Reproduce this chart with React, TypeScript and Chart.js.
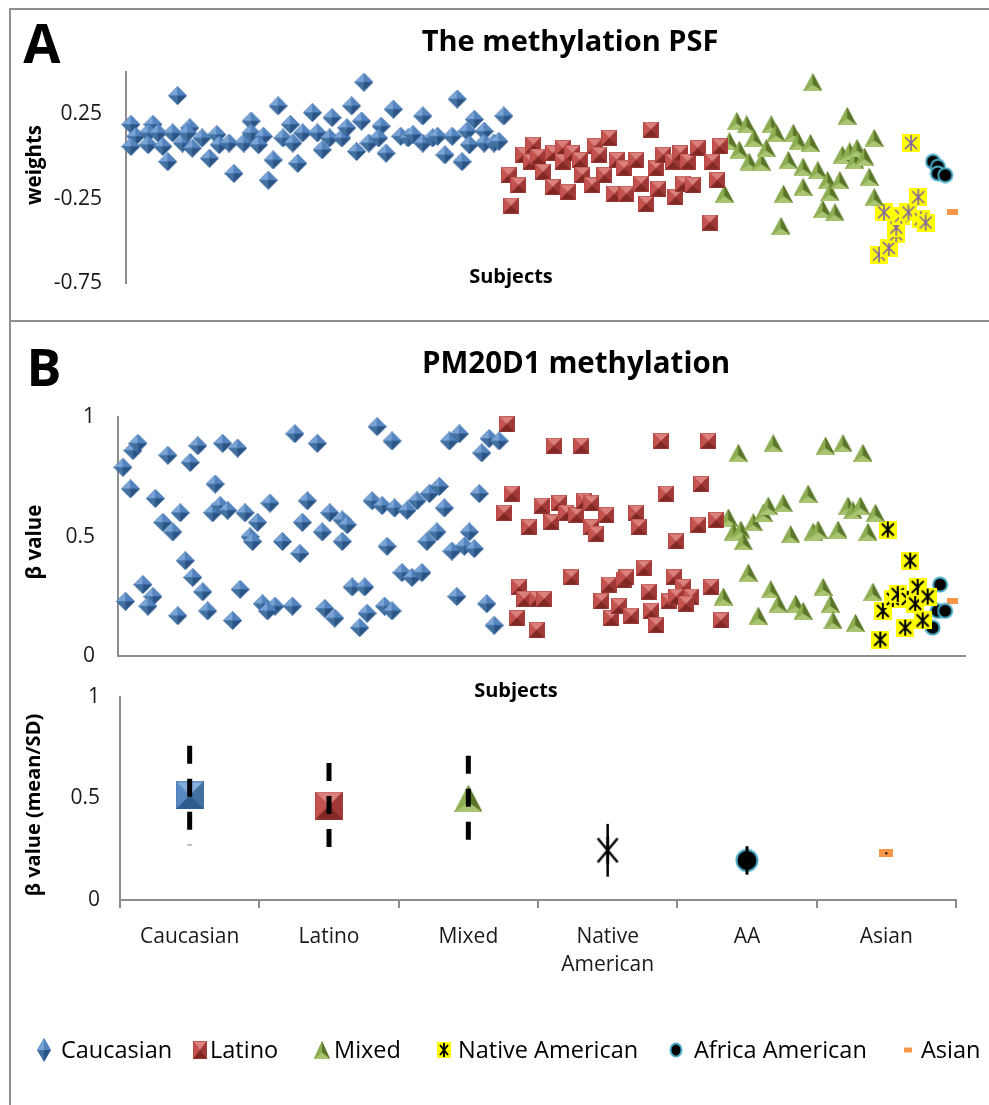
import React, { useEffect, useMemo, useRef } from 'react';
import { Chart, registerables } from 'chart.js';

Chart.register(...registerables);

const FONT = "'Open Sans', 'DejaVu Sans', sans-serif";

// ---------- Panel A: methylation PSF weights, [subject index, weight] ----------
const psfCaucasian = [
  [2, 0.19], [4, 0.12], [2, 0.06], [11, 0.19], [9, 0.14], [9, 0.07], [13, 0.14], [15, 0.06], [17, -0.03], [21, 0.36],
  [19, 0.14], [23, 0.08], [26, 0.17], [27, 0.05], [25, 0.14], [31, 0.11], [34, -0.01], [37, 0.13], [38, 0.07], [42, 0.08],
  [44, -0.10], [48, 0.08], [51, 0.21], [51, 0.14], [56, 0.12], [54, 0.07], [60, -0.02], [58, -0.14], [62, 0.30], [64, 0.11],
  [67, 0.19], [68, 0.08], [70, -0.04], [72, 0.14], [76, 0.26], [78, 0.14], [80, 0.04], [84, 0.23], [83, 0.11], [88, 0.11],
  [90, 0.17], [92, 0.30], [94, 0.03], [96, 0.21], [97, 0.44], [99, 0.08], [104, 0.18], [103, 0.11], [106, 0.02], [109, 0.28],
  [112, 0.12], [115, 0.11], [117, 0.13], [121, 0.24], [121, 0.08], [125, 0.11], [127, 0.12], [130, 0.01], [133, 0.12], [135, 0.34],
  [137, -0.03], [139, 0.15], [140, 0.07], [142, 0.22], [146, 0.15], [146, 0.08], [150, 0.08], [154, 0.24], [152, 0.09],
];
const psfLatino = [
  [156, -0.11], [157, -0.29], [160, -0.17], [162, 0.01], [166, 0.07], [165, -0.03], [168, 0.0], [170, -0.09], [174, 0.02], [174, -0.18],
  [178, 0.05], [178, -0.03], [180, -0.21], [182, 0.02], [185, -0.02], [186, -0.11], [190, -0.17], [191, 0.06], [193, 0.01], [195, -0.11],
  [197, 0.11], [199, -0.22], [200, -0.02], [203, -0.07], [204, -0.22], [208, -0.02], [210, -0.16], [212, -0.28], [214, 0.16], [216, -0.07],
  [217, -0.19], [219, 0.01], [223, -0.03], [224, -0.24], [226, 0.02], [227, -0.16], [229, -0.03], [231, -0.17], [233, 0.05], [238, -0.39],
  [239, -0.03], [241, -0.14], [242, 0.06],
];
const psfMixed = [
  [244, -0.22], [246, 0.09], [249, 0.21], [250, 0.04], [253, 0.19], [254, -0.03], [256, 0.11], [259, -0.03], [261, 0.05], [263, 0.19],
  [265, 0.14], [267, -0.41], [268, -0.22], [270, -0.02], [272, 0.14], [274, 0.09], [276, -0.18], [276, -0.06], [279, 0.08], [280, 0.44],
  [282, -0.08], [284, -0.31], [286, -0.14], [287, -0.21], [289, -0.33], [291, -0.14], [292, 0.01], [294, 0.24], [295, 0.03], [297, -0.02],
  [298, 0.05], [301, 0.0], [303, -0.12], [305, 0.11], [305, -0.24],
];
const psfNative = [
  [307, -0.58], [309, -0.33], [311, -0.54], [314, -0.46], [314, -0.42], [316, -0.35], [319, -0.33], [320, 0.08], [323, -0.24], [324, -0.37], [326, -0.39],
];
const psfAfrican = [[329, -0.03], [331, -0.06], [331, -0.1], [334, -0.11]];
const psfAsian = [[337, -0.33]];
const psfYTicks = [-0.75, -0.25, 0.25];

// ---------- Panel B: PM20D1 methylation beta values, [subject index, beta] ----------
const pmCaucasian = [
  [2, 0.79], [5, 0.70], [6, 0.86], [8, 0.89], [15, 0.66], [18, 0.56], [20, 0.84], [22, 0.52], [25, 0.60], [29, 0.81],
  [32, 0.88], [39, 0.72], [38, 0.60], [41, 0.63], [42, 0.89], [44, 0.61], [48, 0.87], [51, 0.60], [56, 0.56], [53, 0.50],
  [54, 0.48], [61, 0.64], [66, 0.48], [71, 0.93], [73, 0.43], [76, 0.65], [80, 0.89], [74, 0.56], [82, 0.52], [85, 0.60],
  [90, 0.57], [90, 0.48], [92, 0.55], [104, 0.96], [102, 0.65], [106, 0.63], [110, 0.90], [108, 0.46],
  [3, 0.23], [10, 0.30], [14, 0.25], [12, 0.21], [24, 0.17], [27, 0.40], [30, 0.33], [34, 0.27], [36, 0.19], [46, 0.15],
  [49, 0.28], [58, 0.22], [63, 0.21], [70, 0.21], [60, 0.19], [83, 0.20], [87, 0.16], [97, 0.12], [94, 0.29], [99, 0.29],
  [100, 0.18], [107, 0.21], [110, 0.19],
  [133, 0.90], [137, 0.93], [146, 0.85], [149, 0.91], [153, 0.90], [111, 0.62], [116, 0.61], [120, 0.65], [125, 0.68], [129, 0.71],
  [131, 0.62], [145, 0.68], [124, 0.48], [128, 0.52], [134, 0.44], [139, 0.46], [141, 0.52], [143, 0.45], [114, 0.35], [118, 0.33],
  [122, 0.35], [136, 0.25], [148, 0.22], [151, 0.13],
];
const pmLatino = [
  [156, 0.97], [175, 0.88], [186, 0.88], [218, 0.90], [158, 0.68], [155, 0.60], [165, 0.54], [170, 0.63], [174, 0.56], [177, 0.64],
  [180, 0.60], [184, 0.59], [187, 0.65], [190, 0.64], [190, 0.54], [192, 0.51], [196, 0.59], [208, 0.60], [209, 0.54], [220, 0.68],
  [224, 0.48], [161, 0.29], [163, 0.24], [168, 0.24], [171, 0.24], [160, 0.16], [168, 0.11], [182, 0.33], [194, 0.23], [197, 0.30],
  [198, 0.16], [201, 0.21], [203, 0.32], [204, 0.33], [206, 0.17], [211, 0.37], [213, 0.27], [214, 0.19], [216, 0.13], [221, 0.23],
  [223, 0.33], [237, 0.90], [234, 0.72], [233, 0.55], [240, 0.57], [227, 0.29], [230, 0.25], [224, 0.25], [228, 0.22], [238, 0.29],
  [242, 0.15],
];
const pmMixed = [
  [249, 0.85], [263, 0.89], [284, 0.88], [291, 0.89], [299, 0.85],
  [245, 0.58], [247, 0.52], [250, 0.53], [251, 0.48], [255, 0.56], [259, 0.60], [261, 0.63], [267, 0.64], [270, 0.51], [277, 0.68],
  [279, 0.52], [281, 0.53], [289, 0.53], [293, 0.63], [295, 0.61], [298, 0.63], [301, 0.52], [304, 0.60],
  [243, 0.25], [253, 0.35], [257, 0.17], [262, 0.28], [265, 0.22], [272, 0.22], [275, 0.19], [283, 0.29], [286, 0.22], [287, 0.15],
  [296, 0.14], [303, 0.27],
];
const pmNative = [
  [306, 0.07], [307, 0.19], [309, 0.53], [311, 0.24], [313, 0.26], [316, 0.12], [317, 0.24], [318, 0.40], [320, 0.22], [321, 0.29], [323, 0.15], [325, 0.25],
];
const pmAfrican = [[327, 0.12], [329, 0.19], [330, 0.30], [332, 0.19]];
const pmAsian = [[335, 0.23]];
const pmYTicks = [0, 0.5, 1];

// ---------- Panel B (lower): group mean / SD ----------
const groupCategories: (string | string[])[] = ['Caucasian', 'Latino', 'Mixed', ['Native', 'American'], 'AA', 'Asian'];
const groupMeans = [0.515, 0.465, 0.5, 0.245, 0.195, 0.23];
const groupSDs = [0.245, 0.21, 0.21, 0.13, 0.07, 0.005];
const meanYTicks = [0, 0.5, 1];

const legendLabels = ['Caucasian', 'Latino', 'Mixed', 'Native American', 'Africa American', 'Asian'];

// ---------- marker drawing ----------
function makeCanvas(w: number, h: number, draw: (c: CanvasRenderingContext2D) => void) {
  const cv = document.createElement('canvas');
  cv.width = w;
  cv.height = h;
  const c = cv.getContext('2d') as CanvasRenderingContext2D;
  draw(c);
  return cv;
}
function poly(c: CanvasRenderingContext2D, pts: number[][], color: string) {
  c.beginPath();
  c.moveTo(pts[0][0], pts[0][1]);
  for (let i = 1; i < pts.length; i++) c.lineTo(pts[i][0], pts[i][1]);
  c.closePath();
  c.fillStyle = color;
  c.fill();
}
function diamondMarker(w: number, h: number) {
  return makeCanvas(w, h, (c) => {
    const cx = w / 2, cy = h / 2;
    poly(c, [[cx, 0], [w, cy], [cx, h], [0, cy]], '#3f6ea8');
    poly(c, [[cx, 0.5], [0.5, cy], [cx, cy]], '#7ba4d6');
    poly(c, [[cx, 0.5], [w - 0.5, cy], [cx, cy]], '#5484c0');
    poly(c, [[0.5, cy], [cx, h - 0.5], [cx, cy]], '#42709f');
    poly(c, [[w - 0.5, cy], [cx, h - 0.5], [cx, cy]], '#2b5383');
  });
}
function squareMarker(w: number, h: number, pal: string[]) {
  return makeCanvas(w, h, (c) => {
    const cx = w / 2, cy = h / 2;
    poly(c, [[0, 0], [w, 0], [w, h], [0, h]], pal[0]);
    poly(c, [[0.5, 0.5], [w - 0.5, 0.5], [cx, cy]], pal[1]);
    poly(c, [[0.5, 0.5], [0.5, h - 0.5], [cx, cy]], pal[2]);
    poly(c, [[w - 0.5, 0.5], [w - 0.5, h - 0.5], [cx, cy]], pal[3]);
    poly(c, [[0.5, h - 0.5], [w - 0.5, h - 0.5], [cx, cy]], pal[4]);
  });
}
function triangleMarker(w: number, h: number) {
  return makeCanvas(w, h, (c) => {
    const a = [w / 2, 0], bl = [0, h], br = [w, h], ce = [w / 2, h * 0.64];
    poly(c, [a, bl, br], '#6c8934');
    poly(c, [a, bl, ce], '#8eae52');
    poly(c, [a, ce, br], '#5a7529');
    poly(c, [bl, br, ce], '#a9c572');
  });
}
function starMarker(w: number, h: number, color: string, lw: number, bg: string | null) {
  return makeCanvas(w, h, (c) => {
    if (bg) {
      c.fillStyle = bg;
      c.fillRect(0, 0, w, h);
    }
    c.strokeStyle = color;
    c.lineWidth = lw;
    const m = 3;
    c.beginPath();
    c.moveTo(m, m); c.lineTo(w - m, h - m);
    c.moveTo(w - m, m); c.lineTo(m, h - m);
    c.moveTo(w / 2, 1); c.lineTo(w / 2, h - 1);
    c.stroke();
  });
}
function circleMarker(w: number, h: number) {
  return makeCanvas(w, h, (c) => {
    c.beginPath();
    c.ellipse(w / 2, h / 2, w / 2 - 1.5, h / 2 - 1.5, 0, 0, Math.PI * 2);
    c.fillStyle = '#000';
    c.fill();
    c.lineWidth = 2;
    c.strokeStyle = '#4bacc6';
    c.stroke();
  });
}
function dashMarker(w: number, h: number) {
  return makeCanvas(w, h, (c) => {
    c.fillStyle = '#f79646';
    c.fillRect(0, 0, w, h);
  });
}
const RED = ['#b3423e', '#da817d', '#c4524f', '#a03936', '#7f2826'];
const BLUE_SQ = ['#3f6ea8', '#86addc', '#5a8ac4', '#41709f', '#2f5a8c'];

const AXIS = '#8c8c8c';
const TICK_COLOR = '#1a1a1a';

function baseScatterOptions(ticks: number[], min: number, max: number, yWidth: number, pad: any, tickPad: number, showX: boolean) {
  return {
    animation: false,
    responsive: false,
    maintainAspectRatio: false,
    events: [],
    layout: { padding: pad },
    plugins: { legend: { display: false }, tooltip: { enabled: false }, title: { display: false } },
    scales: {
      x: {
        type: 'linear',
        min: 0,
        max: 340,
        display: showX,
        grid: { display: false, drawTicks: false },
        ticks: { display: false },
        border: { display: true, color: AXIS, width: 2 },
        afterFit: (s: any) => { s.height = 0; },
      },
      y: {
        min,
        max,
        afterBuildTicks: (s: any) => { s.ticks = ticks.map((v) => ({ value: v })); },
        afterFit: (s: any) => { s.width = yWidth; },
        grid: { display: false, drawTicks: false },
        border: { display: true, color: AXIS, width: 2 },
        ticks: { padding: tickPad, color: TICK_COLOR, font: { family: FONT, size: 21 }, callback: (v: any) => String(v) },
      },
    },
  };
}

function ds(label: string, pts: number[][], style: any) {
  return {
    label,
    data: pts.map(([x, y]) => ({ x, y })),
    pointStyle: style,
    pointRadius: 8,
    clip: false,
    showLine: false,
  };
}

const Text = ({ x, y, size, bold, rotate, children }: any) => (
  <div
    style={{
      position: 'absolute',
      left: x,
      top: y,
      transform: `translate(-50%, -50%)${rotate ? ' rotate(-90deg)' : ''}`,
      fontSize: size,
      fontWeight: bold ? 700 : 400,
      whiteSpace: 'nowrap',
      lineHeight: 1,
      color: '#000',
    }}
  >
    {children}
  </div>
);

export default function App() {
  const refA = useRef<HTMLCanvasElement>(null);
  const refB = useRef<HTMLCanvasElement>(null);
  const refC = useRef<HTMLCanvasElement>(null);

  const legendImgs = useMemo(() => {
    if (typeof document === 'undefined') return [] as string[];
    return [
      diamondMarker(14, 24),
      squareMarker(14, 18, RED),
      triangleMarker(16, 18),
      starMarker(14, 16, '#000', 2, '#ffff00'),
      circleMarker(14, 16),
      dashMarker(8, 5),
    ].map((cv) => cv.toDataURL());
  }, []);

  useEffect(() => {
    const dia = diamondMarker(19, 19);
    const sq = squareMarker(16, 16, RED);
    const tri = triangleMarker(19, 18);
    const naA = starMarker(18, 18, '#7f62a8', 1.6, '#ffff00');
    const naB = starMarker(18, 18, '#000', 2, '#ffff00');
    const aa = circleMarker(17, 17);
    const as = dashMarker(11, 6);

    const chartA = new Chart(refA.current as HTMLCanvasElement, {
      type: 'scatter',
      data: {
        datasets: [
          ds('Caucasian', psfCaucasian, dia),
          ds('Latino', psfLatino, sq),
          ds('Mixed', psfMixed, tri),
          ds('Native American', psfNative, naA),
          ds('Africa American', psfAfrican, aa),
          ds('Asian', psfAsian, as),
        ],
      },
      options: baseScatterOptions(psfYTicks, -0.75, 0.5, 116, { left: 10, right: 29, top: 72, bottom: 22 }, 24, false) as any,
    });

    const chartB = new Chart(refB.current as HTMLCanvasElement, {
      type: 'scatter',
      data: {
        datasets: [
          ds('Caucasian', pmCaucasian, dia),
          ds('Latino', pmLatino, sq),
          ds('Mixed', pmMixed, tri),
          ds('Native American', pmNative, naB),
          ds('Africa American', pmAfrican, aa),
          ds('Asian', pmAsian, as),
        ],
      },
      options: baseScatterOptions(pmYTicks, 0, 1, 108, { left: 10, right: 24, top: 95, bottom: 23 }, 23, true) as any,
    });

    const bigMarkers = [
      squareMarker(28, 28, BLUE_SQ),
      squareMarker(28, 28, RED),
      triangleMarker(28, 27),
      starMarker(26, 30, '#000', 2.5, null),
      circleMarker(24, 24),
      dashMarker(14, 8),
    ];
    const errStyles = [
      { w: 5, dash: [18, 15] },
      { w: 5, dash: [18, 15] },
      { w: 5, dash: [18, 15] },
      { w: 2.5, dash: [] },
      { w: 3, dash: [] },
      { w: 2, dash: [] },
    ];
    const errorBars = {
      id: 'errorBars',
      afterDatasetsDraw(chart: any) {
        const { ctx, scales } = chart;
        groupMeans.forEach((m, i) => {
          const px = scales.x.getPixelForValue(i);
          const top = scales.y.getPixelForValue(m + groupSDs[i]);
          const bot = scales.y.getPixelForValue(m - groupSDs[i]);
          ctx.save();
          ctx.strokeStyle = '#000';
          ctx.lineWidth = errStyles[i].w;
          ctx.setLineDash(errStyles[i].dash);
          ctx.beginPath();
          ctx.moveTo(px, top);
          ctx.lineTo(px, bot);
          ctx.stroke();
          ctx.restore();
        });
      },
    };

    const chartC = new Chart(refC.current as HTMLCanvasElement, {
      type: 'line',
      data: {
        labels: groupCategories as any,
        datasets: groupMeans.map((m, i) => ({
          label: legendLabels[i],
          data: groupMeans.map((v, j) => (j === i ? v : null)),
          showLine: false,
          pointStyle: bigMarkers[i],
          pointRadius: 12,
          clip: false,
        })),
      },
      options: {
        animation: false,
        responsive: false,
        maintainAspectRatio: false,
        events: [],
        layout: { padding: { left: 10, right: 33, top: 37, bottom: 0 } },
        plugins: { legend: { display: false }, tooltip: { enabled: false } },
        scales: {
          x: {
            type: 'category',
            offset: true,
            grid: { display: true, offset: true, drawOnChartArea: false, drawTicks: true, tickLength: 8, color: AXIS, lineWidth: 2 },
            border: { display: true, color: AXIS, width: 2 },
            ticks: { padding: 15, color: TICK_COLOR, font: { family: FONT, size: 21, lineHeight: 1.33 }, maxRotation: 0, autoSkip: false },
            afterFit: (s: any) => { s.height = 100; },
          },
          y: {
            min: 0,
            max: 1,
            afterBuildTicks: (s: any) => { s.ticks = meanYTicks.map((v) => ({ value: v })); },
            afterFit: (s: any) => { s.width = 110; },
            grid: { display: false, drawTicks: false },
            border: { display: true, color: AXIS, width: 2 },
            ticks: { padding: 20, color: TICK_COLOR, font: { family: FONT, size: 21 }, callback: (v: any) => String(v) },
          },
        },
      } as any,
      plugins: [errorBars],
    });

    return () => {
      chartA.destroy();
      chartB.destroy();
      chartC.destroy();
    };
  }, []);

  const legendY = 1050;
  const legendMarkerX = [44, 200, 322, 444, 676, 908];
  const legendTextX = [61, 210, 334, 458, 694, 921];

  return (
    <div style={{ position: 'fixed', left: 0, top: 0, width: 989, height: 1105, background: '#fff', overflow: 'hidden', fontFamily: FONT }}>
      <div style={{ position: 'absolute', left: 9, top: 8, width: 990, height: 2, background: '#909090' }} />
      <div style={{ position: 'absolute', left: 9, top: 8, width: 2, height: 1110, background: '#909090' }} />
      <div style={{ position: 'absolute', left: 9, top: 320, width: 990, height: 2, background: '#909090' }} />

      <canvas ref={refA} width={989} height={320} style={{ position: 'absolute', left: 0, top: 0 }} />
      <canvas ref={refB} width={989} height={370} style={{ position: 'absolute', left: 0, top: 322 }} />
      <canvas ref={refC} width={989} height={340} style={{ position: 'absolute', left: 0, top: 660 }} />

      <Text x={42} y={42} size={54} bold>A</Text>
      <Text x={570} y={39} size={29} bold>The methylation PSF</Text>
      <Text x={33} y={165} size={20.5} bold rotate>weights</Text>
      <Text x={511} y={276} size={20} bold>Subjects</Text>

      <Text x={44} y={366} size={52} bold>B</Text>
      <Text x={576} y={362} size={29.5} bold>PM20D1 methylation</Text>
      <Text x={33} y={542} size={20.5} bold rotate>β value</Text>
      <Text x={516} y={690} size={20} bold>Subjects</Text>
      <Text x={33} y={805} size={20} bold rotate>β value (mean/SD)</Text>

      {legendLabels.map((lab, i) => (
        <React.Fragment key={lab}>
          {legendImgs[i] ? (
            <img
              src={legendImgs[i]}
              alt=""
              style={{ position: 'absolute', left: legendMarkerX[i], top: legendY, transform: 'translate(-50%, -50%)', display: 'block' }}
            />
          ) : null}
          <div
            style={{
              position: 'absolute',
              left: legendTextX[i],
              top: legendY,
              transform: 'translateY(-50%)',
              fontSize: 23.5,
              lineHeight: 1,
              whiteSpace: 'nowrap',
              color: '#000',
            }}
          >
            {lab}
          </div>
        </React.Fragment>
      ))}
    </div>
  );
}
